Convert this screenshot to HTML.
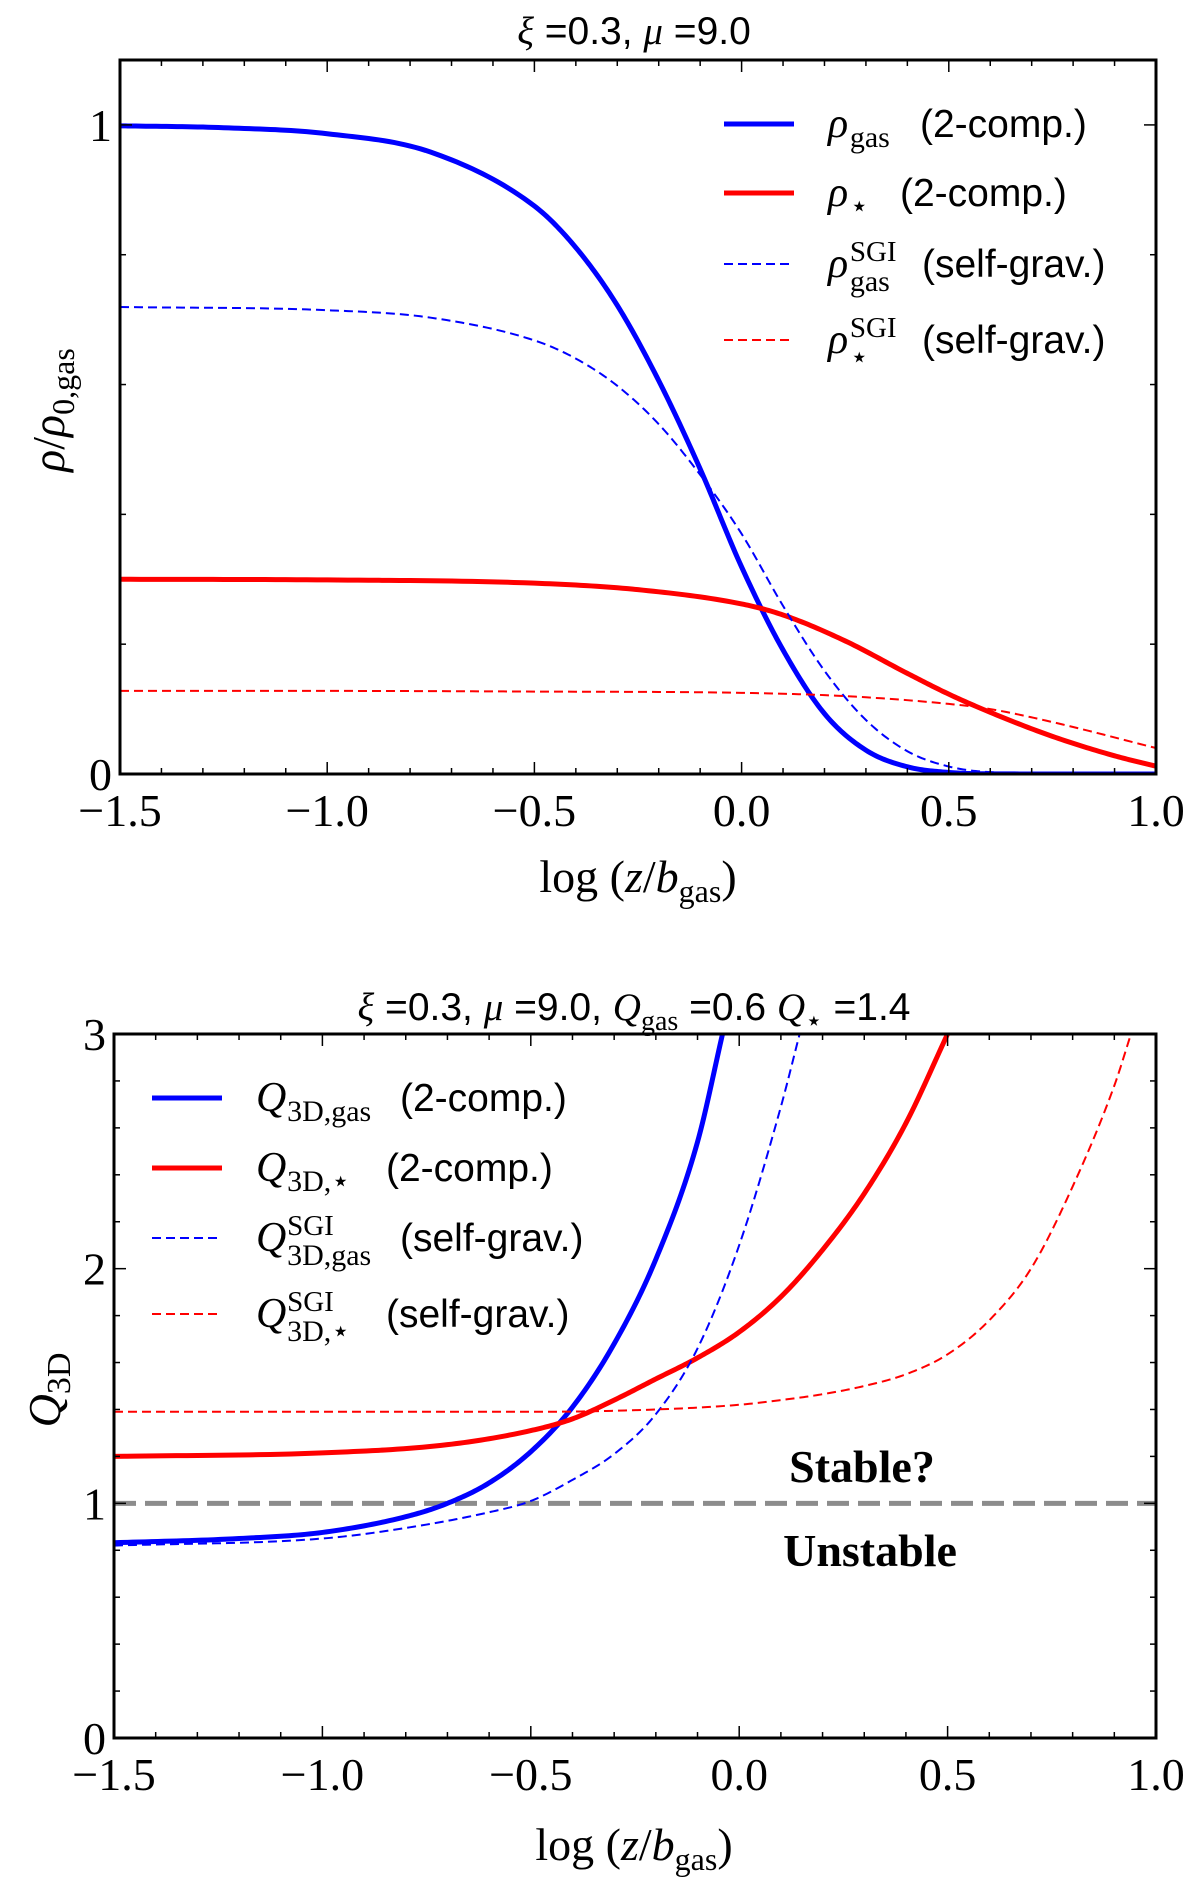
<!DOCTYPE html>
<html><head><meta charset="utf-8"><style>
body{margin:0;background:#fff}
svg{display:block}
.tk{font-family:"Liberation Serif",serif;font-size:46px}
.lg{font-family:"Liberation Sans",sans-serif;font-size:39px}
.mt{font-family:"Liberation Serif",serif;font-style:italic}
</style></head><body>
<svg id="c" width="1200" height="1881" viewBox="0 0 1200 1881" xmlns="http://www.w3.org/2000/svg"></svg>
<script>
const xVals=[-1.5,-1.25,-1.0,-0.75,-0.5,-0.4,-0.3,-0.2,-0.1,0,0.1,0.2,0.3,0.4,0.5,0.6,0.8,1.0];
const rhoGas=[0.9986,0.9957,0.9864,0.958,0.875,0.811,0.722,0.606,0.47,0.319,0.191,0.093,0.0367,0.0111,0.0024,0.0003,0,0];
const rhoGasSGIx=[-1.5,-1.0,-0.75,-0.5,-0.4,-0.3,-0.2,-0.1,0,0.1,0.2,0.3,0.4,0.5,0.6,0.8,1.0];
const rhoGasSGI=[0.7195,0.7145,0.703,0.668,0.640,0.598,0.539,0.461,0.37,0.259,0.159,0.0832,0.0351,0.0115,0.0028,0.0001,0];
const rhoStarX=[-1.5,-1.0,-0.5,-0.25,0,0.1,0.25,0.4,0.5,0.6,0.75,0.9,1.0];
const rhoStar=[0.300,0.299,0.294,0.284,0.262,0.245,0.205,0.155,0.123,0.095,0.058,0.028,0.012];
const rhoStarSGIx=[-1.5,-1.0,-0.5,0,0.25,0.5,0.6,0.75,1.0];
const rhoStarSGI=[0.128,0.128,0.127,0.125,0.12,0.108,0.10,0.08,0.04];
const qGasX=[-1.5,-1.2,-1.0,-0.8,-0.7,-0.6,-0.5,-0.4,-0.3,-0.2,-0.1,-0.04];
const qGas=[0.832,0.85,0.876,0.943,1.0,1.087,1.22,1.41,1.68,2.04,2.54,3.0];
const qGasSGIx=[-1.5,-1.0,-0.8,-0.6,-0.5,-0.4,-0.3,-0.2,-0.1,0,0.1,0.145];
const qGasSGI=[0.82,0.85,0.895,0.962,1.01,1.10,1.21,1.38,1.66,2.10,2.69,3.0];
const qStarX=[-1.5,-1.0,-0.7,-0.5,-0.4,-0.3,-0.2,-0.1,0,0.1,0.2,0.3,0.4,0.5];
const qStar=[1.20,1.215,1.25,1.31,1.36,1.44,1.53,1.62,1.73,1.88,2.08,2.32,2.62,3.0];
const qStarSGIx=[-1.5,-0.5,-0.2,0,0.1,0.2,0.3,0.4,0.5,0.6,0.7,0.8,0.9,0.94];
const qStarSGI=[1.39,1.39,1.40,1.42,1.44,1.465,1.50,1.55,1.635,1.78,2.0,2.35,2.78,3.0];
const xTicks=[-1.5,-1.0,-0.5,0.0,0.5,1.0];
const xTickLabels=["\u22121.5","\u22121.0","\u22120.5","0.0","0.5","1.0"];

const NS="http://www.w3.org/2000/svg";
const svg=document.getElementById('c');
function mk(tag,attrs,parent){const e=document.createElementNS(NS,tag);for(const k in attrs)e.setAttribute(k,attrs[k]);(parent||svg).appendChild(e);return e;}
function mono(xs,ys){const n=xs.length,d=[],m=[];for(let i=0;i<n-1;i++)d.push((ys[i+1]-ys[i])/(xs[i+1]-xs[i]));
  m[0]=d[0];m[n-1]=d[n-2];for(let i=1;i<n-1;i++){m[i]=(d[i-1]*d[i]<=0)?0:(d[i-1]+d[i])/2;}
  for(let i=0;i<n-1;i++){if(d[i]===0){m[i]=0;m[i+1]=0;continue;}const a=m[i]/d[i],b=m[i+1]/d[i],s=a*a+b*b;if(s>9){const t=3/Math.sqrt(s);m[i]=t*a*d[i];m[i+1]=t*b*d[i];}}
  const out=[];for(let i=0;i<n-1;i++){const h=xs[i+1]-xs[i];for(let k=0;k<20;k++){const t=k/20,t2=t*t,t3=t2*t;
    out.push([xs[i]+t*h,(2*t3-3*t2+1)*ys[i]+(t3-2*t2+t)*h*m[i]+(-2*t3+3*t2)*ys[i+1]+(t3-t2)*h*m[i+1]]);}}
  out.push([xs[n-1],ys[n-1]]);return out;}

function legendLabel(g,x,y,L,size){
  const t=mk('text',{x:x,y:y+13,class:'mt','font-size':size},g);t.textContent=L.sym;
  
  const sx=x+size*(L.sym==='Q'?0.74:0.52);
  if(L.sup){const s=mk('text',{x:sx,y:y-3,'font-family':'Liberation Serif','font-size':29},g);s.textContent='SGI';}
  const b=mk('text',{x:sx,y:y+(L.sup?27:23),'font-family':'Liberation Serif','font-size':30},g);b.textContent=L.sub;
  const r=mk('text',{x:L.rx,y:y+13,class:'lg'},g);r.textContent=L.rest;
  
}

function panel(o){
  const g=mk('g',{});
  const X=v=>o.L+(v+1.5)/2.5*(o.R-o.L);
  const Y=v=>o.B-(v-o.y0)/(o.y1-o.y0)*(o.B-o.T);
  const cp='cp'+o.name;
  const defs=mk('defs',{},g);const c=mk('clipPath',{id:cp},defs);mk('rect',{x:o.L,y:o.T,width:o.R-o.L,height:o.B-o.T},c);
  const plot=mk('g',{'clip-path':`url(#${cp})`},g);
  if(o.hline!==undefined){const h=mk('line',{x1:o.L,x2:o.R,y1:Y(o.hline),y2:Y(o.hline),stroke:'#8c8c8c','stroke-width':5,'stroke-dasharray':'22,9'},plot);}
  o.series.forEach(s=>{const pts=mono(s.x,s.y).map(p=>[X(p[0]),Y(p[1])]);
    const p=mk('path',{d:'M'+pts.map(q=>q[0].toFixed(2)+','+q[1].toFixed(2)).join(' L'),fill:'none',stroke:s.c,'stroke-width':s.dash?2:5,'stroke-dasharray':s.dash?'9,5':'none'},plot);});
  const tk=mk('g',{stroke:'#000','stroke-width':1.5},g);
  for(let i=0;i<=25;i++){const v=-1.5+i*0.1,x=X(v),L=i%5==0?12:6;mk('line',{x1:x,x2:x,y1:o.B,y2:o.B-L},tk);mk('line',{x1:x,x2:x,y1:o.T,y2:o.T+L},tk);}
  for(let v=o.y0;v<=o.y1+1e-9;v+=o.minor){const y=Y(v),maj=Math.abs(v/o.major-Math.round(v/o.major))<1e-6,L=maj?12:6;mk('line',{x1:o.L,x2:o.L+L,y1:y,y2:y},tk);mk('line',{x1:o.R,x2:o.R-L,y1:y,y2:y},tk);}
  mk('rect',{x:o.L,y:o.T,width:o.R-o.L,height:o.B-o.T,fill:'none',stroke:'#000','stroke-width':3},g);
  xTicks.forEach((v,i)=>{const t=mk('text',{x:X(v),y:o.B+52,'text-anchor':'middle',class:'tk'},g);t.textContent=xTickLabels[i];});
  o.yLabels.forEach(v=>{const t=mk('text',{x:o.L-8,y:Y(v)+16,'text-anchor':'end',class:'tk'},g);t.textContent=String(v);});
  o.series.forEach((s,i)=>{const y=o.legY[i];const l=mk('line',{x1:o.legX,x2:o.legX+70,y1:y,y2:y,stroke:s.c,'stroke-width':s.dash?2:5,'stroke-dasharray':s.dash?'9,5':'none'},g);
    legendLabel(g,o.legX+104,y,s.lab,42);});
  return {X,Y,g};
}

panel({name:'density-panel',L:120,R:1156,T:60,B:774,y0:0,y1:1.1,minor:0.2,major:1,yLabels:[0,1],legX:724,
 legY:[124,193,264,340],
 series:[{n:'rho-gas-line',x:xVals,y:rhoGas,c:'#0000ff',lab:{sym:'ρ',sub:'gas',rest:'(2-comp.)',rx:920}},
 {n:'rho-star-line',x:rhoStarX,y:rhoStar,c:'#ff0000',lab:{sym:'ρ',sub:'⋆',rest:'(2-comp.)',rx:900}},
 {n:'rho-gas-sgi-line',x:rhoGasSGIx,y:rhoGasSGI,c:'#0000ff',dash:1,lab:{sym:'ρ',sub:'gas',sup:1,rest:'(self-grav.)',rx:922}},
 {n:'rho-star-sgi-line',x:rhoStarSGIx,y:rhoStarSGI,c:'#ff0000',dash:1,lab:{sym:'ρ',sub:'⋆',sup:1,rest:'(self-grav.)',rx:922}}]});
panel({name:'q3d-panel',L:114,R:1156,T:1034,B:1738,y0:0,y1:3,minor:0.2,major:1,yLabels:[0,1,2,3],hline:1,
 legX:152,legY:[1098,1168,1238,1314],
 series:[{n:'q-gas-line',x:qGasX,y:qGas,c:'#0000ff',lab:{sym:'Q',sub:'3D,gas',rest:'(2-comp.)',rx:400}},
 {n:'q-star-line',x:qStarX,y:qStar,c:'#ff0000',lab:{sym:'Q',sub:'3D,⋆',rest:'(2-comp.)',rx:386}},
 {n:'q-gas-sgi-line',x:qGasSGIx,y:qGasSGI,c:'#0000ff',dash:1,lab:{sym:'Q',sub:'3D,gas',sup:1,rest:'(self-grav.)',rx:400}},
 {n:'q-star-sgi-line',x:qStarSGIx,y:qStarSGI,c:'#ff0000',dash:1,lab:{sym:'Q',sub:'3D,⋆',sup:1,rest:'(self-grav.)',rx:386}}]});

function txt(x,y,html,cls,attrs,name){const t=mk('text',Object.assign({x,y,class:cls},attrs||{}));t.innerHTML=html;return t;}
txt(634,44,'<tspan class="mt">ξ</tspan> =0.3, <tspan class="mt">μ</tspan> =9.0','lg',{'text-anchor':'middle','font-size':'42'},'top-title');
txt(634,1020,'<tspan class="mt">ξ</tspan> =0.3, <tspan class="mt">μ</tspan> =9.0, <tspan class="mt">Q</tspan><tspan font-family="Liberation Serif" font-size="28" dy="10">gas</tspan><tspan dy="-10"> =0.6 </tspan><tspan class="mt">Q</tspan><tspan font-size="28" dy="10">⋆</tspan><tspan dy="-10"> =1.4</tspan>','lg',{'text-anchor':'middle','font-size':'40'},'bottom-title');
txt(638,892,'log (<tspan class="mt">z</tspan>/<tspan class="mt">b</tspan><tspan font-size="32" dy="10">gas</tspan><tspan dy="-10">)</tspan>','tk',{'text-anchor':'middle','font-size':'52'},'top-x-axis-title');
txt(634,1860,'log (<tspan class="mt">z</tspan>/<tspan class="mt">b</tspan><tspan font-size="32" dy="10">gas</tspan><tspan dy="-10">)</tspan>','tk',{'text-anchor':'middle','font-size':'52'},'bottom-x-axis-title');
txt(0,0,'<tspan class="mt">ρ</tspan>/<tspan class="mt">ρ</tspan><tspan font-size="32" dy="10">0,gas</tspan>','tk',{transform:'translate(64,410) rotate(-90)','text-anchor':'middle','font-size':'54'},'top-y-axis-title');
txt(0,0,'<tspan class="mt">Q</tspan><tspan font-size="34" dy="10">3D</tspan>','tk',{transform:'translate(60,1390) rotate(-90)','text-anchor':'middle','font-size':'58'},'bottom-y-axis-title');
txt(862,1482,'Stable?','tk',{'text-anchor':'middle','font-size':'47','font-weight':'bold'},'stable-label');
txt(870,1566,'Unstable','tk',{'text-anchor':'middle','font-size':'48','font-weight':'bold'},'unstable-label');
</script>
</body></html>
